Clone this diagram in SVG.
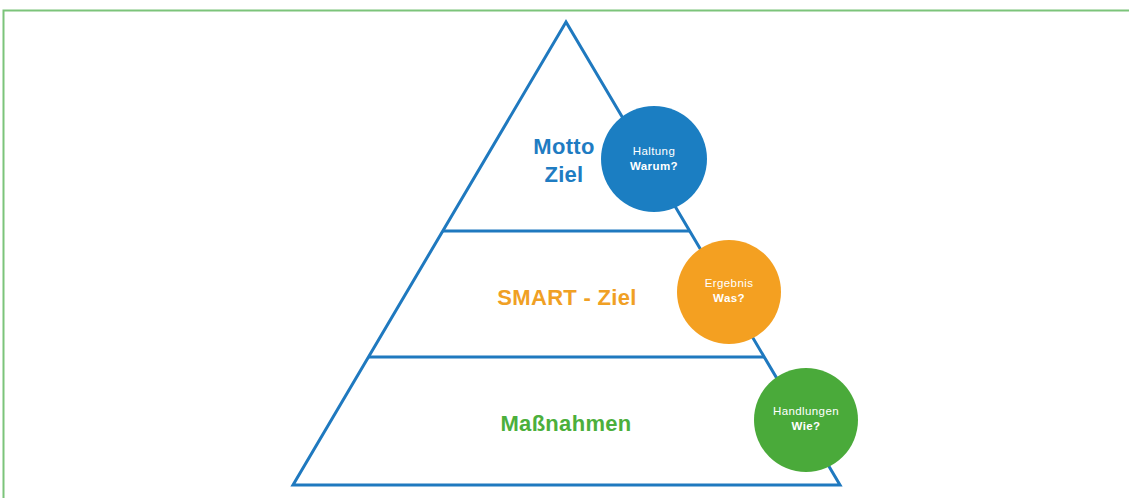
<svg xmlns="http://www.w3.org/2000/svg" width="1129" height="498" viewBox="0 0 1129 498">
<style>
.frame{fill:none;stroke:#7cc47a;stroke-width:2}
.pyr{fill:none;stroke:#1f79bf;stroke-width:3;stroke-linejoin:miter}
.lbl{font-family:"Liberation Sans",Arial,sans-serif;font-weight:bold;font-size:22px;text-anchor:middle;letter-spacing:0.3px}
.ct{font-family:"Liberation Sans",Arial,sans-serif;font-size:11.5px;fill:#fff;text-anchor:middle;letter-spacing:0.4px}
.cb{font-weight:bold}
</style>
<rect width="1129" height="498" fill="#fff"/>
<path class="frame" d="M3.5 498 V10.5 H1129"/>
<g id="connectors">
<path class="pyr" d="M566 22 L293 485 H840 Z"/>
<line class="pyr" x1="443" y1="231" x2="689" y2="231"/>
<line class="pyr" x1="368" y1="357" x2="764" y2="357"/>
</g>
<g id="level-top">
<text class="lbl" x="564" y="154" fill="#1f7cc2">Motto</text>
<text class="lbl" x="564" y="182" fill="#1f7cc2">Ziel</text>
</g>
<g id="level-middle">
<text class="lbl" x="567" y="305" fill="#f0a024">SMART - Ziel</text>
</g>
<g id="level-bottom">
<text class="lbl" x="566" y="431" fill="#4caf3c">Maßnahmen</text>
</g>
<g id="circle-haltung">
<circle cx="654" cy="159" r="53" fill="#1b7ec2"/>
<text class="ct" x="654" y="155">Haltung</text>
<text class="ct cb" x="654" y="170">Warum?</text>
</g>
<g id="circle-ergebnis">
<circle cx="729" cy="292" r="52" fill="#f4a021"/>
<text class="ct" x="729" y="287">Ergebnis</text>
<text class="ct cb" x="729" y="302">Was?</text>
</g>
<g id="circle-handlungen">
<circle cx="806" cy="420" r="52" fill="#4aaa3a"/>
<text class="ct" x="806" y="415">Handlungen</text>
<text class="ct cb" x="806" y="430">Wie?</text>
</g>
</svg>
